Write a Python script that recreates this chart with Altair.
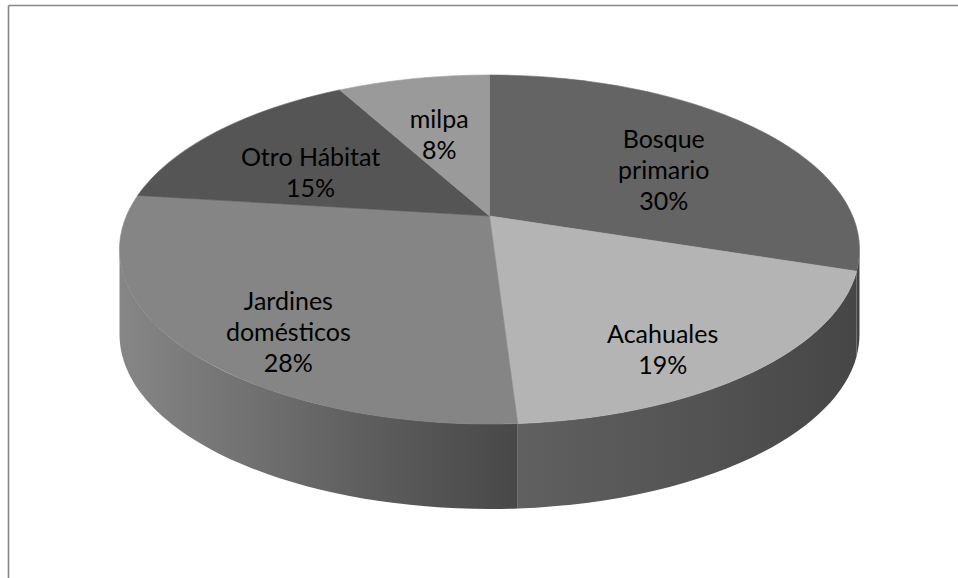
import math
import altair as alt
import pandas as pd

# ---- data ----
categories = ["Bosque primario", "Acahuales", "Jardines domésticos", "Otro Hábitat", "milpa"]
label_lines = ["Bosque\nprimario", "Acahuales", "Jardines\ndomésticos", "Otro Hábitat", "milpa"]
values = [30, 19, 28, 15, 8]

# ---- styles ----
top_colors = ["#646464", "#b4b4b4", "#858585", "#555555", "#9a9a9a"]
side_stops = {
    "Bosque primario": [("#474747", 0.0), ("#404040", 1.0)],
    "Acahuales": [("#606060", 0.0), ("#545454", 0.5), ("#464646", 1.0)],
    "Jardines domésticos": [("#868686", 0.0), ("#737373", 0.3), ("#5c5c5c", 0.65), ("#484848", 1.0)],
    "Otro Hábitat": [("#3c3c3c", 0.0), ("#333333", 1.0)],
    "milpa": [("#6a6a6a", 0.0), ("#5a5a5a", 1.0)],
}

W, H = 958, 578
CX, CY = 489.5, 216.0          # apex of the pie (pixels)
A, B, E = 363.1, 168.1, 0.192  # perspective projection of the pie disc
D = 85.0                       # thickness of the pie
RB = B / (1 - E)
RT = B / (1 + E)
DY = (RB - RT) / 2             # ellipse centre below apex
RY = (RB + RT) / 2
RX = A / math.sqrt(1 - E * E)
KX, KY, OY = 0.66, 0.734, 20.0  # label placement factors
LH = 31                         # label line height

df = pd.DataFrame({"category": categories, "label": label_lines, "value": values})
df["idx"] = list(range(len(df)))
df["txt"] = [f"{l}\n{v}%" for l, v in zip(label_lines, values)]


def rnd(expr):
    return f"(round(({expr})*100)/100)"


def px(t):
    return f"{A}*sin(datum.{t})/(1+{E}*cos(datum.{t}))"


def py(t):
    return f"-{B}*cos(datum.{t})/(1+{E}*cos(datum.{t}))"


base = (
    alt.Chart(df)
    .transform_joinaggregate(total="sum(value)")
    .transform_window(cum1="sum(value)", sort=[alt.SortField("idx")], frame=[None, 0])
    .transform_calculate(
        t0="2*PI*(datum.cum1 - datum.value)/datum.total",
        t1="2*PI*datum.cum1/datum.total",
    )
    .transform_calculate(
        tm="(datum.t0 + datum.t1)/2",
        x0=px("t0"), y0=py("t0"), x1=px("t1"), y1=py("t1"),
    )
    .transform_calculate(
        p0raw=f"atan2((datum.y0-{DY:.4f})/{RY:.4f}, datum.x0/{RX:.4f})",
        p1raw=f"atan2((datum.y1-{DY:.4f})/{RY:.4f}, datum.x1/{RX:.4f})",
    )
    .transform_calculate(
        p0="datum.p0raw < -PI/2 - 1e-6 ? datum.p0raw + 2*PI : datum.p0raw",
        p1a="datum.p1raw < -PI/2 - 1e-6 ? datum.p1raw + 2*PI : datum.p1raw",
    )
    .transform_calculate(
        p1="datum.p1a <= datum.p0 + 1e-9 ? datum.p1a + 2*PI : datum.p1a",
    )
    .transform_calculate(
        large="datum.p1 - datum.p0 > PI ? 1 : 0",
        sa="max(datum.p0, 0)",
        sb="min(datum.p1, PI)",
    )
    .transform_calculate(
        top_path=(
            "'M0,0L' + " + rnd("datum.x0") + " + ',' + " + rnd("datum.y0")
            + f" + 'A{RX:.3f},{RY:.3f} 0 ' + datum.large + ' 1 ' + "
            + rnd("datum.x1") + " + ',' + " + rnd("datum.y1") + " + 'Z'"
        ),
        sxa=f"{RX:.4f}*cos(datum.sa)",
        sya=f"{DY:.4f} + {RY:.4f}*sin(datum.sa)",
        sxb=f"{RX:.4f}*cos(datum.sb)",
        syb=f"{DY:.4f} + {RY:.4f}*sin(datum.sb)",
    )
    .transform_calculate(
        side_path=(
            "'M' + " + rnd("datum.sxa") + " + ',' + " + rnd("datum.sya")
            + f" + 'A{RX:.3f},{RY:.3f} 0 0 1 ' + "
            + rnd("datum.sxb") + " + ',' + " + rnd("datum.syb")
            + " + 'L' + " + rnd("datum.sxb") + " + ',' + " + rnd(f"datum.syb + {D}")
            + f" + 'A{RX:.3f},{RY:.3f} 0 0 0 ' + "
            + rnd("datum.sxa") + " + ',' + " + rnd(f"datum.sya + {D}") + " + 'Z'"
        ),
        vis="datum.sb > datum.sa + 1e-6",
    )
)

# ---- side walls (one layer per slice so each gets its own shading) ----
side_layers = []
for c in categories:
    grad = alt.Gradient(
        gradient="linear",
        stops=[alt.GradientStop(color=col, offset=o) for col, o in side_stops[c]],
        x1=0, x2=1, y1=0, y2=0,
    )
    side_layers.append(
        base.transform_filter("datum.vis")
        .transform_filter(alt.datum.category == c)
        .mark_point(filled=True, opacity=1, fill=grad, strokeWidth=0)
        .encode(
            x=alt.value(CX),
            y=alt.value(CY),
            shape=alt.Shape("side_path:N", scale=None),
            size=alt.value(4),
        )
    )

color_scale = alt.Scale(domain=categories, range=top_colors)
tops = base.mark_point(filled=True, opacity=1, strokeWidth=0.6).encode(
    x=alt.value(CX),
    y=alt.value(CY),
    shape=alt.Shape("top_path:N", scale=None),
    size=alt.value(4),
    fill=alt.Fill("category:N", scale=color_scale, legend=None),
    stroke=alt.Stroke("category:N", scale=color_scale, legend=None),
)

labels = base.transform_calculate(
    nlines="length(split(datum.txt, '\\n'))",
).transform_calculate(
    lx=f"{CX} + {KX}*{A}*sin(datum.tm)/(1+{E}*cos(datum.tm))",
    ly=f"{CY} - {KY}*{B}*cos(datum.tm)/(1+{E}*cos(datum.tm)) + {OY} - (datum.nlines - 1)*{LH}/2",
).mark_text(
    font="Lato", fontSize=25, lineBreak="\n", lineHeight=LH,
    align="center", baseline="middle", color="#000000",
).encode(
    x=alt.X("lx:Q", scale=None),
    y=alt.Y("ly:Q", scale=None),
    text="txt:N",
)

one = alt.Data(values=[{"k": 1}])
frame_top = alt.Chart(one).mark_rule(color="#888888", strokeWidth=1.6).encode(
    x=alt.value(8.5), x2=alt.value(W), y=alt.value(5.5)
)
frame_left = alt.Chart(one).mark_rule(color="#888888", strokeWidth=1.6).encode(
    x=alt.value(8.5), y=alt.value(5.5), y2=alt.value(H)
)

chart = (
    alt.layer(frame_top, frame_left, *side_layers, tops, labels)
    .properties(width=W, height=H, padding=0, autosize="none", background="white")
    .configure_view(stroke=None)
)

chart.save("out.html", embed_options={"renderer": "svg", "actions": False})
